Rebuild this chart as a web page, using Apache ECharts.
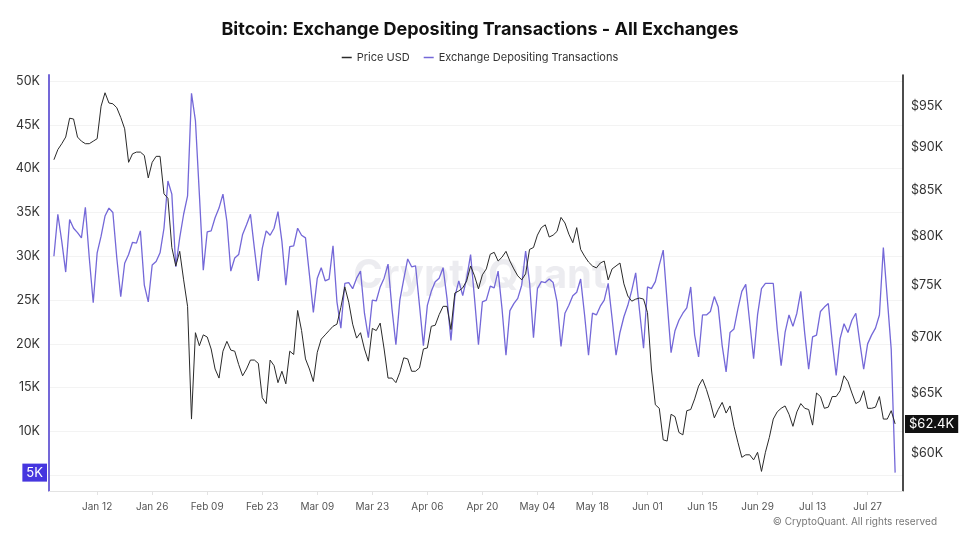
<!DOCTYPE html>
<html lang="en">
<head>
<meta charset="utf-8">
<title>Bitcoin: Exchange Depositing Transactions - All Exchanges</title>
<script src="https://cdn.jsdelivr.net/npm/echarts@6/dist/echarts.min.js"></script>
<style>
    html, body { margin: 0; padding: 0; background: #fff; }
    #main { width: 960px; height: 540px; }
</style>
</head>
<body>
<div id="main"></div>
<script>
    // daily values, first day 2026-01-01
    var startDate = '2026-01-01';

    // Price USD, in thousands of dollars
    var priceUsd = [
        88.5, 89.7, 90.4, 91.2, 93.5, 93.4, 91.2, 90.7, 90.4, 90.4,
        90.7, 91.0, 95.0, 96.7, 95.4, 95.3, 94.8, 93.6, 92.2, 88.2,
        89.2, 89.4, 89.4, 89.0, 86.4, 88.2, 88.9, 88.9, 84.6, 84.1,
        78.8, 76.9, 78.4, 75.5, 72.9, 62.8, 70.4, 69.2, 70.2, 70.0,
        68.9, 67.1, 66.3, 68.7, 69.6, 68.8, 68.7, 67.5, 66.5, 67.1,
        67.9, 67.9, 67.6, 64.6, 64.1, 67.9, 67.4, 65.9, 66.9, 65.8,
        68.7, 68.4, 72.5, 70.6, 68.0, 67.1, 66.0, 68.6, 69.8, 70.2,
        70.6, 71.0, 71.2, 72.8, 74.8, 73.3, 71.2, 69.9, 70.4, 68.9,
        67.8, 70.8, 70.6, 71.3, 68.9, 66.3, 66.3, 65.9, 66.8, 68.1,
        68.0, 66.9, 66.9, 67.2, 68.9, 69.0, 71.0, 71.1, 72.1, 72.9,
        72.9, 70.7, 74.2, 74.4, 74.7, 75.4, 76.9, 75.9, 74.6, 76.0,
        76.6, 78.1, 78.3, 77.4, 77.8, 78.4, 77.4, 76.6, 75.9, 75.5,
        76.1, 78.6, 78.8, 80.1, 80.9, 81.2, 79.9, 80.1, 80.5, 82.0,
        81.4, 80.2, 79.3, 80.9, 78.6, 77.9, 77.3, 76.9, 76.7, 77.2,
        77.4, 75.5, 76.6, 76.9, 77.2, 75.1, 73.9, 73.4, 73.6, 73.7,
        73.6, 72.3, 67.1, 64.0, 63.7, 61.1, 61.0, 63.2, 63.0, 61.7,
        61.5, 63.5, 63.6, 64.5, 65.6, 66.2, 65.3, 64.2, 62.9, 63.6,
        64.2, 63.3, 63.9, 62.2, 60.9, 59.7, 59.9, 59.9, 59.5, 60.1,
        58.6, 60.1, 61.3, 62.8, 63.4, 63.7, 63.9, 63.2, 62.2, 63.4,
        64.1, 63.7, 63.6, 62.3, 65.0, 64.7, 63.7, 63.8, 64.7, 64.7,
        65.2, 66.5, 66.0, 65.0, 64.1, 64.3, 65.2, 63.7, 63.7, 63.8,
        64.7, 62.8, 62.8, 63.5, 62.4
    ];

    // Exchange depositing transactions, in thousands
    var depositTx = [
        30.0, 34.8, 31.7, 28.2, 34.2, 33.2, 32.7, 32.1, 35.6, 29.8,
        24.7, 30.4, 32.3, 34.6, 35.5, 35.0, 29.8, 25.4, 29.2, 30.2,
        31.6, 31.5, 32.9, 26.7, 24.8, 29.0, 29.4, 30.4, 33.2, 38.6,
        37.1, 28.8, 32.1, 34.8, 36.9, 48.6, 45.5, 37.1, 28.4, 32.8,
        32.9, 34.4, 35.5, 37.1, 34.0, 28.3, 29.8, 30.2, 32.5, 33.6,
        34.8, 30.9, 27.2, 30.9, 32.9, 32.4, 33.2, 35.1, 31.7, 26.7,
        31.1, 31.2, 33.2, 32.4, 32.1, 27.9, 23.6, 27.5, 28.7, 27.2,
        27.4, 31.2, 24.8, 21.8, 26.9, 27.0, 26.3, 27.5, 28.3, 23.5,
        20.7, 25.0, 24.9, 26.5, 27.5, 29.1, 24.0, 19.9, 25.0, 27.4,
        29.7, 28.8, 28.9, 24.4, 19.8, 24.4, 26.0, 27.1, 27.5, 28.7,
        25.2, 20.4, 25.4, 27.2, 25.5, 27.5, 30.2, 25.2, 19.9, 24.8,
        25.0, 26.6, 26.4, 28.3, 24.0, 18.7, 23.8, 24.6, 25.2, 26.7,
        30.6, 27.0, 20.7, 26.3, 27.1, 27.0, 27.4, 27.0, 24.8, 19.7,
        23.5, 24.4, 25.5, 25.9, 27.4, 23.3, 18.7, 23.5, 23.3, 24.3,
        25.0, 26.9, 22.9, 18.7, 21.3, 23.1, 24.4, 26.1, 28.1, 23.7,
        19.5, 26.5, 26.3, 27.1, 29.0, 30.7, 24.8, 19.0, 21.5, 22.7,
        23.5, 24.1, 26.5, 21.0, 18.5, 23.3, 23.3, 23.7, 25.4, 24.2,
        19.8, 16.8, 21.3, 21.7, 24.0, 26.0, 26.8, 22.5, 18.3, 23.3,
        26.3, 26.9, 26.9, 26.9, 21.7, 17.5, 21.3, 23.3, 22.0, 23.5,
        26.0, 21.2, 17.1, 20.8, 21.0, 23.7, 24.2, 24.6, 20.2, 16.4,
        20.6, 22.3, 21.3, 22.7, 23.5, 20.2, 17.1, 20.0, 21.0, 21.8,
        23.3, 31.0, 25.2, 19.4, 5.3
    ];

    var xTickDates = ['2026-01-12', '2026-01-26', '2026-02-09', '2026-02-23', '2026-03-09',
        '2026-03-23', '2026-04-06', '2026-04-20', '2026-05-04', '2026-05-18',
        '2026-06-01', '2026-06-15', '2026-06-29', '2026-07-13', '2026-07-27'];
    var leftTicks = [5, 10, 15, 20, 25, 30, 35, 40, 45, 50];
    var leftLabels = [10, 15, 20, 25, 30, 35, 40, 45, 50];
    var rightTicks = [60, 65, 70, 75, 80, 85, 90, 95];

    var DAY = 86400000;
    var monthNames = ['Jan', 'Feb', 'Mar', 'Apr', 'May', 'Jun', 'Jul', 'Aug', 'Sep', 'Oct', 'Nov', 'Dec'];

    function toTime(s) {
        var p = s.split('-');
        return Date.UTC(+p[0], +p[1] - 1, +p[2]);
    }

    function dateLabel(t) {
        var d = new Date(t);
        var day = d.getUTCDate();
        return monthNames[d.getUTCMonth()] + ' ' + (day < 10 ? '0' + day : day);
    }

    var t0 = toTime(startDate);
    var priceData = [];
    var depositData = [];
    for (var i = 0; i < priceUsd.length; i++) {
        priceData.push([t0 + i * DAY, priceUsd[i]]);
    }
    for (var j = 0; j < depositTx.length; j++) {
        depositData.push([t0 + j * DAY, depositTx[j]]);
    }
    var tLast = t0 + (priceUsd.length - 1) * DAY;
    var xTicks = xTickDates.map(toTime);

    var FONT = 'Inter, "Noto Sans", sans-serif';
    var PURPLE = '#7468d8';

    var myChart = echarts.init(document.getElementById('main'));

    var option = {
        animation: false,
        backgroundColor: '#fff',
        textStyle: { fontFamily: FONT },
        title: {
            text: 'Bitcoin: Exchange Depositing Transactions - All Exchanges',
            left: 'center',
            top: 16,
            textStyle: { fontSize: 18, fontWeight: 'bold', color: '#111', fontFamily: FONT }
        },
        legend: {
            top: 47,
            left: 'center',
            icon: 'rect',
            itemWidth: 10,
            itemHeight: 1.5,
            itemGap: 14,
            textStyle: { fontSize: 11, color: '#333', fontFamily: FONT },
            data: ['Price USD', 'Exchange Depositing Transactions']
        },
        grid: { left: 49, right: 57, top: 75, bottom: 49 },
        graphic: [
            {
                type: 'text', left: 'center', top: 256, z: 0, silent: true,
                style: { text: 'CryptoQuant', fontSize: 40, fontWeight: 'bold', fontFamily: FONT, fill: 'rgba(200,200,212,0.35)' }
            },
            {
                type: 'text', right: 23, top: 517, silent: true,
                style: { text: '© CryptoQuant. All rights reserved', fontSize: 10, fontFamily: FONT, fill: '#777' }
            }
        ],
        xAxis: {
            type: 'value',
            min: t0 - 1.25 * DAY,
            max: tLast + 2 * DAY,
            axisLine: { show: true, lineStyle: { color: '#e3e3e3' } },
            axisTick: { show: true, customValues: xTicks, length: 4, lineStyle: { color: '#e3e3e3' } },
            axisLabel: {
                customValues: xTicks,
                formatter: function (v) { return dateLabel(v); },
                color: '#555', fontSize: 10, margin: 11, fontFamily: FONT
            },
            splitLine: { show: false }
        },
        yAxis: [
            {
                type: 'value',
                position: 'left',
                min: 3.2,
                max: 50.7,
                axisLine: { show: true, lineStyle: { color: PURPLE, width: 2 } },
                axisTick: { show: false, customValues: leftTicks },
                axisLabel: {
                    customValues: leftLabels,
                    formatter: function (v) { return v + 'K'; },
                    color: '#333', fontSize: 12.5, margin: 9, fontFamily: FONT
                },
                splitLine: { show: true, lineStyle: { color: '#f3f3f3' } },
                axisPointer: {
                    show: true,
                    status: 'show',
                    value: depositTx[depositTx.length - 1],
                    triggerTooltip: false,
                    lineStyle: { opacity: 0 },
                    label: {
                        show: true,
                        formatter: function (p) { return Math.round(p.value) + 'K'; },
                        backgroundColor: '#4636df',
                        color: '#fff',
                        fontSize: 13,
                        fontFamily: FONT,
                        padding: [3, 4, 2, 4],
                        borderRadius: 0,
                        margin: 2
                    }
                }
            },
            {
                type: 'log',
                position: 'right',
                min: 57.1,
                max: 99.0,
                axisLine: { show: true, lineStyle: { color: '#111', width: 1.5 } },
                axisTick: { show: false },
                axisLabel: {
                    customValues: rightTicks,
                    formatter: function (v) { return '$' + Math.round(v) + 'K'; },
                    color: '#333', fontSize: 12.5, margin: 8, fontFamily: FONT
                },
                splitLine: { show: false },
                axisPointer: {
                    show: true,
                    status: 'show',
                    value: priceUsd[priceUsd.length - 1],
                    triggerTooltip: false,
                    lineStyle: { opacity: 0 },
                    label: {
                        show: true,
                        formatter: function (p) { return '$' + (+p.value).toFixed(1) + 'K'; },
                        backgroundColor: '#111',
                        color: '#fff',
                        fontSize: 13,
                        fontFamily: FONT,
                        padding: [3, 4, 2, 4],
                        borderRadius: 0,
                        margin: 2
                    }
                }
            }
        ],
        series: [
            {
                name: 'Price USD',
                type: 'line',
                yAxisIndex: 1,
                data: priceData,
                symbol: 'none',
                lineStyle: { color: '#2a2a2a', width: 1 },
                itemStyle: { color: '#2a2a2a' },
                z: 3
            },
            {
                name: 'Exchange Depositing Transactions',
                type: 'line',
                yAxisIndex: 0,
                data: depositData,
                symbol: 'none',
                lineStyle: { color: PURPLE, width: 1.3 },
                itemStyle: { color: PURPLE },
                z: 2
            }
        ]
    };

    myChart.setOption(option);
</script>
</body>
</html>
